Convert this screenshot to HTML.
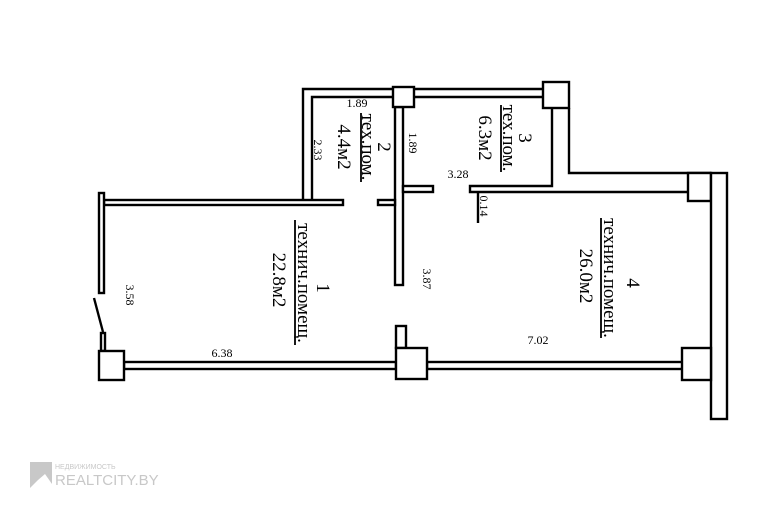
<!DOCTYPE html>
<html><head><meta charset="utf-8"><style>
html,body{margin:0;padding:0;background:#fff;}
svg{display:block;}
</style></head><body>
<svg width="781" height="520" viewBox="0 0 781 520" xmlns="http://www.w3.org/2000/svg">
<rect width="781" height="520" fill="#fff"/>
<g fill="#fff" stroke="#000" stroke-width="2.4">
<path d="M303,203 V89 H393 M312,200 V97 H393"/>
<path d="M414,89 H543 M414,97 H543"/>
<rect x="104" y="200" width="239" height="5"/>
<rect x="99" y="193" width="5" height="100"/>
<rect x="101" y="333" width="4" height="18"/>
<line x1="94" y1="298" x2="103" y2="332"/>
<rect x="124" y="362" width="272" height="7"/>
<rect x="427" y="362" width="256" height="7"/>
<rect x="396" y="326" width="10" height="22"/>
<rect x="99" y="351" width="25" height="29"/>
<rect x="396" y="348" width="31" height="31"/>
<rect x="395" y="107" width="8" height="178"/>
<rect x="378" y="200" width="17" height="5"/>
<rect x="403" y="186" width="30" height="6"/>
<rect x="393" y="87" width="21" height="20"/>
<path d="M569,108 V173 H711 M552,108 V186 H470 V192 H688"/>
<rect x="543" y="82" width="26" height="26"/>
<line x1="478" y1="192" x2="478" y2="223"/>
<rect x="688" y="173" width="23" height="28"/>
<rect x="711" y="173" width="16" height="246"/>
<rect x="682" y="348" width="29" height="32"/>
</g>
<g font-family="Liberation Serif, serif" fill="#000">
<g font-size="19">
<text transform="translate(378,147) rotate(90)" text-anchor="middle">2</text>
<text transform="translate(362,147) rotate(90)" text-anchor="middle">тех.пом.</text>
<text transform="translate(338,147) rotate(90)" text-anchor="middle">4.4м2</text>
<text transform="translate(519,138) rotate(90)" text-anchor="middle">3</text>
<text transform="translate(503,138) rotate(90)" text-anchor="middle">тех.пом.</text>
<text transform="translate(479,138) rotate(90)" text-anchor="middle">6.3м2</text>
<text transform="translate(317,288) rotate(90)" text-anchor="middle">1</text>
<text transform="translate(298,283) rotate(90)" text-anchor="middle">технич.помещ.</text>
<text transform="translate(273,280) rotate(90)" text-anchor="middle">22.8м2</text>
<text transform="translate(627,283) rotate(90)" text-anchor="middle">4</text>
<text transform="translate(604,278) rotate(90)" text-anchor="middle">технич.помещ.</text>
<text transform="translate(580,276) rotate(90)" text-anchor="middle">26.0м2</text>
</g>
<g stroke="#000" stroke-width="1.8">
<line x1="361" y1="113" x2="361" y2="182"/>
<line x1="501" y1="105" x2="501" y2="172"/>
<line x1="295" y1="220" x2="295" y2="345"/>
<line x1="601" y1="218" x2="601" y2="338"/>
</g>
<g font-size="12">
<text x="357" y="107" text-anchor="middle">1.89</text>
<text x="222" y="357" text-anchor="middle">6.38</text>
<text x="538" y="344" text-anchor="middle">7.02</text>
<text x="458" y="178" text-anchor="middle">3.28</text>
<text transform="translate(314,150) rotate(90)" text-anchor="middle">2.33</text>
<text transform="translate(409,143) rotate(90)" text-anchor="middle">1.89</text>
<text transform="translate(126,295) rotate(90)" text-anchor="middle">3.58</text>
<text transform="translate(423,279) rotate(90)" text-anchor="middle">3.87</text>
<text transform="translate(480,206) rotate(90)" text-anchor="middle">0.14</text>
</g>
</g>
<g fill="#c8c8c8" font-family="Liberation Sans, sans-serif">
<path d="M30,462 H52 V484 L45,474 L38,480 L30,488 Z"/>
<text x="55" y="469" font-size="7">НЕДВИЖИМОСТЬ</text>
<text x="55" y="485" font-size="15">REALTCITY.BY</text>
</g>
</svg>
</body></html>
